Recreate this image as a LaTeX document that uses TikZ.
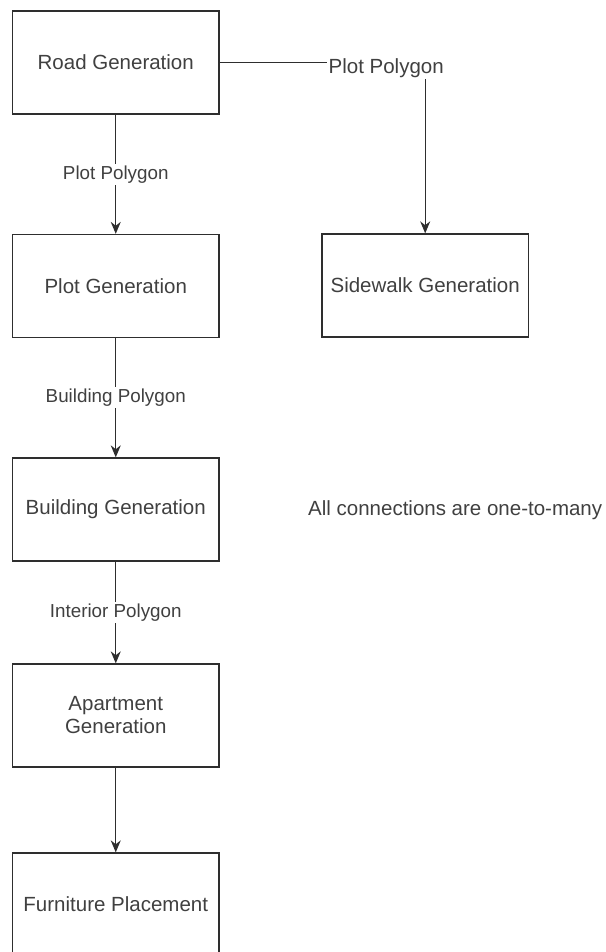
\documentclass[tikz,border=0pt]{standalone}
\usepackage{fontspec}
\setmainfont{Liberation Sans}
\usepackage{tikz}
\usetikzlibrary{arrows.meta}
\definecolor{lineColor}{gray}{0.18}
\definecolor{textColor}{gray}{0.25}
\begin{document}
\begin{tikzpicture}[x=1pt,y=-1pt,
	stage/.style={draw=lineColor,line width=1.3pt,minimum width=206.5pt,minimum height=103pt,inner sep=0pt,align=center,text=textColor,font=\fontsize{20.5pt}{23pt}\selectfont},
	flow/.style={draw=lineColor,line width=1.3pt,-{Stealth[length=12pt,width=10pt]}},
	edgeLbl/.style={fill=white,text=textColor,inner sep=1.5pt,font=\fontsize{18.8pt}{22pt}\selectfont}]
\useasboundingbox (0,0) rectangle (605,952);
\clip (0,0) rectangle (605,952);
%
\node[stage] (road) at (115.75,62.5) {Road Generation};
\node[stage] (plot) at (115.75,286) {Plot Generation};
\node[stage] (side) at (425.2,285.5) {Sidewalk Generation};
\node[stage] (bldg) at (115.75,509.5) {Building Generation};
\node[stage] (apt) at (115.75,715.5) {Apartment\\Generation};
\node[stage] (furn) at (115.75,904.5) {Furniture Placement};
%
\draw[flow] (road) -- (plot) node[midway,edgeLbl] (lblPlot) {Plot Polygon};
\draw[flow] (plot) -- (bldg) node[midway,edgeLbl] (lblBldg) {Building Polygon};
\draw[flow] (bldg) -- (apt) node[midway,edgeLbl] (lblInt) {Interior Polygon};
\draw[flow] (apt) -- (furn);
\draw[flow] (road) -| (side) node[pos=0.5,edgeLbl,xshift=-39pt,yshift=-5.5pt,font=\fontsize{20.5pt}{23pt}\selectfont] (lblSide) {Plot Polygon};
%
\node[anchor=west,inner sep=0pt,text=textColor,font=\fontsize{20.5pt}{23pt}\selectfont] (note) at (308,510) {All connections are one-to-many};
\end{tikzpicture}
\end{document}
